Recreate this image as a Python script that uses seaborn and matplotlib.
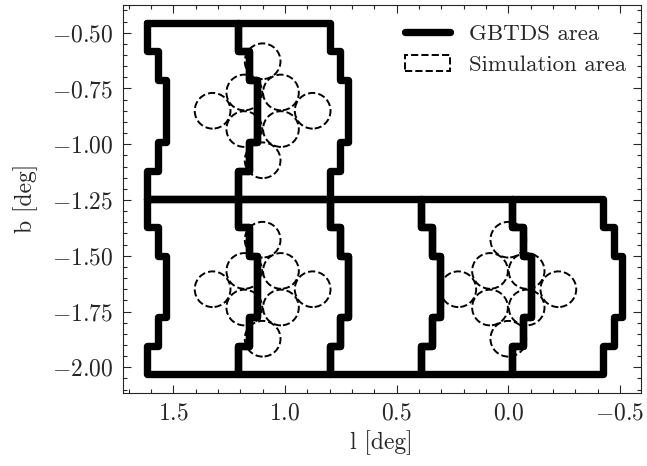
import numpy as np
import pandas as pd
import matplotlib
matplotlib.use("Agg")
import matplotlib.pyplot as plt
import seaborn as sns
from matplotlib.patches import Circle, Patch
from matplotlib.lines import Line2D
from matplotlib.ticker import MultipleLocator

# ---------------- data ----------------
# GBTDS fields: top-left corner (l, b) of each footprint outline
field_l_left = [1.618, 1.209, 0.800, 0.391, -0.017, 1.618, 1.209]
field_b_top = [-1.244, -1.244, -1.244, -1.244, -1.244, -0.457, -0.457]
field_width = 0.409
field_height = 0.787
# stepped edge of the footprint: breakpoints in b (from top) and l offset per segment
edge_step_db = [0.0, 0.125, 0.255, 0.532, 0.662, 0.787]
edge_step_dl = [0.0, 0.048, 0.084, 0.048, 0.0]

# simulation areas: cluster centres and circle offsets
sim_l = [1.10, 1.10, 0.00]
sim_b = [-0.85, -1.65, -1.65]
circle_dl = [0.224, -0.224, 0.0, 0.0, 0.082, -0.082, 0.082, -0.082]
circle_db = [0.0, 0.0, 0.222, -0.222, 0.082, 0.082, -0.082, -0.082]
circle_r = 0.08

legend_labels = ["GBTDS area", "Simulation area"]

# ---------------- build outline table ----------------
rows = []
for f, (L, T) in enumerate(zip(field_l_left, field_b_top)):
    pts = []
    for i in range(len(edge_step_dl)):
        pts.append((L - edge_step_dl[i], T - edge_step_db[i]))
        pts.append((L - edge_step_dl[i], T - edge_step_db[i + 1]))
    for i in reversed(range(len(edge_step_dl))):
        pts.append((L - field_width - edge_step_dl[i], T - edge_step_db[i + 1]))
        pts.append((L - field_width - edge_step_dl[i], T - edge_step_db[i]))
    pts.append((L, T))
    for k, (x, y) in enumerate(pts):
        rows.append({"field": f, "order": k, "l": x, "b": y})
df = pd.DataFrame(rows)

# ---------------- style ----------------
sns.set_style("ticks")
plt.rcParams["font.family"] = "serif"
plt.rcParams["font.serif"] = ["cmr10", "DejaVu Serif"]
plt.rcParams["mathtext.fontset"] = "cm"
plt.rcParams["axes.formatter.use_mathtext"] = True
plt.rcParams["axes.unicode_minus"] = True

FS = 17
fig = plt.figure(figsize=(6.47, 4.66), dpi=100)
ax = fig.add_axes([122.7 / 647, 1 - 392.7 / 466, 518 / 647, 387.7 / 466])

sns.lineplot(data=df, x="l", y="b", units="field", estimator=None, sort=False,
             color="black", linewidth=5.3, ax=ax, legend=False)

for cl, cb in zip(sim_l, sim_b):
    for dl, db in zip(circle_dl, circle_db):
        ax.add_patch(Circle((cl + dl, cb + db), circle_r, fill=False,
                            edgecolor="black", linestyle="--", linewidth=1.4))

ax.set_xlim(1.7265, -0.5927)
ax.set_ylim(-2.1138, -0.3758)

ax.xaxis.set_major_locator(MultipleLocator(0.5))
ax.xaxis.set_minor_locator(MultipleLocator(0.1))
ax.yaxis.set_major_locator(MultipleLocator(0.25))
ax.yaxis.set_minor_locator(MultipleLocator(0.05))
ax.tick_params(which="both", direction="in", top=True, right=True,
               width=0.8, labelsize=FS, pad=7)
ax.tick_params(which="major", length=5.5)
ax.tick_params(which="minor", length=2.7)
for s in ax.spines.values():
    s.set_linewidth(0.8)

ax.set_xlabel("l [deg]", fontsize=FS)
ax.set_ylabel("b [deg]", fontsize=FS, labelpad=10)

handles = [Line2D([], [], color="black", linewidth=5.3),
           Patch(facecolor="none", edgecolor="black", linestyle="--", linewidth=1.4)]
ax.legend(handles, legend_labels, loc="upper right", frameon=False,
          fontsize=FS - 0.5, borderaxespad=0.25,
          bbox_to_anchor=(1.0, 0.99))

fig.savefig("out.png", dpi=100)
